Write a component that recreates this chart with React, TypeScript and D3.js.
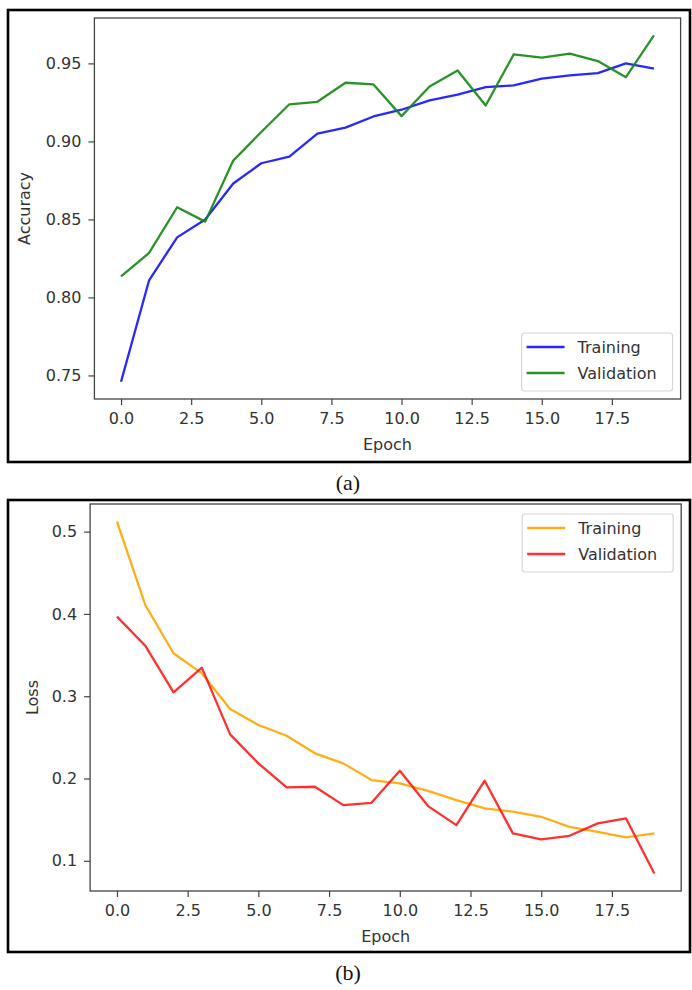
import React, { useEffect, useRef } from "react";
import * as d3 from "d3";

// Epochs and the per-epoch values
const epochs = [0, 1, 2, 3, 4, 5, 6, 7, 8, 9, 10, 11, 12, 13, 14, 15, 16, 17, 18, 19];

const accTraining = [
  0.746, 0.811, 0.8385, 0.85, 0.873, 0.886, 0.8903, 0.905, 0.9088, 0.916,
  0.9203, 0.9263, 0.93, 0.9348, 0.9359, 0.9402, 0.9423, 0.9438, 0.95, 0.9466,
];
const accValidation = [
  0.8135, 0.8285, 0.8578, 0.8486, 0.8877, 0.906, 0.9238, 0.9254, 0.9376, 0.9365,
  0.9162, 0.9352, 0.9455, 0.923, 0.9558, 0.9537, 0.9562, 0.9515, 0.9412, 0.968,
];
const lossTraining = [
  0.5122, 0.4109, 0.3522, 0.3278, 0.2844, 0.265, 0.252, 0.2306, 0.2184, 0.1981,
  0.194, 0.1851, 0.1738, 0.1637, 0.1597, 0.1535, 0.1413, 0.1353, 0.1285, 0.1333,
];
const lossValidation = [
  0.3967, 0.3614, 0.3047, 0.3347, 0.2537, 0.2184, 0.1892, 0.19, 0.1677, 0.1705,
  0.2094, 0.1665, 0.1434, 0.1973, 0.1333, 0.126, 0.1304, 0.1455, 0.1515, 0.0847,
];

const epochTicks = [0, 2.5, 5, 7.5, 10, 12.5, 15, 17.5];
const accTicks = [0.75, 0.8, 0.85, 0.9, 0.95];
const lossTicks = [0.1, 0.2, 0.3, 0.4, 0.5];
const seriesNames = ["Training", "Validation"];

/** Style variables. */
const font = "DejaVu Sans, sans-serif";
const fontSize = 16;
const textColor = "#333";
const lineWidth = 2.3;

const panels = [
  {
    frameTop: 10,
    frameHeight: 452,
    ax: { left: 94.4, right: 680.6, top: 18, bottom: 399 },
    ylabel: "Accuracy",
    ylabelX: 29.5,
    yTicks: accTicks,
    yFormat: ".2f",
    series: [accTraining, accValidation],
    colors: ["#1010ff", "#118811"],
    legendTop: 333,
    caption: "(a)",
    captionY: 490,
  },
  {
    frameTop: 500,
    frameHeight: 452,
    ax: { left: 90.1, right: 681.2, top: 504, bottom: 891 },
    ylabel: "Loss",
    ylabelX: 38,
    yTicks: lossTicks,
    yFormat: ".1f",
    series: [lossTraining, lossValidation],
    colors: ["#ffa500", "#ff1a1a"],
    legendTop: 514,
    caption: "(b)",
    captionY: 980,
  },
];

/** Pads an extent by 5% on both sides, like matplotlib's default margins. */
function padded(values: number[]): [number, number] {
  const [lo, hi] = d3.extent(values) as [number, number];
  const m = (hi - lo) * 0.05;
  return [lo - m, hi + m];
}

export default function App() {
  const ref = useRef<SVGSVGElement>(null);

  useEffect(() => {
    const svg = d3.select(ref.current);
    svg.selectAll("*").remove();

    panels.forEach((p) => {
      const g = svg.append("g");
      const { left, right, top, bottom } = p.ax;

      const x = d3.scaleLinear().domain(padded(epochs)).range([left, right]);
      const y = d3
        .scaleLinear()
        .domain(padded(p.series.flat()))
        .range([bottom, top]);

      // Outer frame around the subfigure
      g.append("rect")
        .attr("x", 8)
        .attr("y", p.frameTop)
        .attr("width", 682)
        .attr("height", p.frameHeight)
        .attr("fill", "none")
        .attr("stroke", "#000")
        .attr("stroke-width", 2.6);

      // X axis
      const xAxis = g
        .append("g")
        .attr("transform", `translate(0,${bottom})`)
        .call(
          d3
            .axisBottom(x)
            .tickValues(epochTicks)
            .tickFormat(d3.format(".1f"))
            .tickSize(6)
            .tickPadding(8)
        );

      // Y axis
      const yAxis = g
        .append("g")
        .attr("transform", `translate(${left},0)`)
        .call(
          d3
            .axisLeft(y)
            .tickValues(p.yTicks)
            .tickFormat(d3.format(p.yFormat))
            .tickSize(6)
            .tickPadding(7)
        );

      [xAxis, yAxis].forEach((a) => {
        a.select(".domain").remove();
        a.selectAll(".tick line").attr("stroke", "#444").attr("stroke-width", 1.2);
        a.selectAll(".tick text")
          .attr("fill", textColor)
          .attr("font-family", font)
          .attr("font-size", fontSize);
      });

      // Lines
      const line = d3
        .line<number>()
        .x((d, i) => x(epochs[i]))
        .y((d) => y(d));

      p.series.forEach((s, k) => {
        g.append("path")
          .datum(s)
          .attr("d", line)
          .attr("fill", "none")
          .attr("stroke", p.colors[k])
          .attr("stroke-width", lineWidth)
          .attr("stroke-linejoin", "round")
          .attr("opacity", 0.9);
      });

      // Spines
      g.append("rect")
        .attr("x", left)
        .attr("y", top)
        .attr("width", right - left)
        .attr("height", bottom - top)
        .attr("fill", "none")
        .attr("stroke", "#444")
        .attr("stroke-width", 1.3);

      // Axis labels
      g.append("text")
        .attr("x", (left + right) / 2)
        .attr("y", bottom + 51)
        .attr("text-anchor", "middle")
        .attr("font-family", font)
        .attr("font-size", fontSize)
        .attr("fill", textColor)
        .text("Epoch");

      g.append("text")
        .attr("transform", `translate(${p.ylabelX},${(top + bottom) / 2}) rotate(-90)`)
        .attr("text-anchor", "middle")
        .attr("font-family", font)
        .attr("font-size", fontSize)
        .attr("fill", textColor)
        .text(p.ylabel);

      // Legend
      const boxW = 151;
      const boxH = 58;
      const bx = right - 8 - boxW;
      const by = p.legendTop;
      g.append("rect")
        .attr("x", bx)
        .attr("y", by)
        .attr("width", boxW)
        .attr("height", boxH)
        .attr("rx", 3)
        .attr("fill", "#fff")
        .attr("fill-opacity", 0.8)
        .attr("stroke", "#d6d6d6")
        .attr("stroke-width", 1.2);

      seriesNames.forEach((name, k) => {
        const ly = by + 14 + k * 26;
        g.append("line")
          .attr("x1", bx + 5)
          .attr("x2", bx + 43)
          .attr("y1", ly)
          .attr("y2", ly)
          .attr("stroke", p.colors[k])
          .attr("stroke-width", lineWidth)
          .attr("opacity", 0.9);
        g.append("text")
          .attr("x", bx + 56)
          .attr("y", ly + 6)
          .attr("font-family", font)
          .attr("font-size", fontSize)
          .attr("fill", textColor)
          .text(name);
      });

      // Subfigure caption
      g.append("text")
        .attr("x", 348)
        .attr("y", p.captionY)
        .attr("text-anchor", "middle")
        .attr("font-family", "Liberation Serif, serif")
        .attr("font-size", 22)
        .attr("fill", "#111")
        .text(p.caption);
    });
  }, []);

  return (
    <div style={{ position: "absolute", left: 0, top: 0 }}>
      <svg ref={ref} width={692} height={990} style={{ display: "block", background: "#fff" }} />
    </div>
  );
}
